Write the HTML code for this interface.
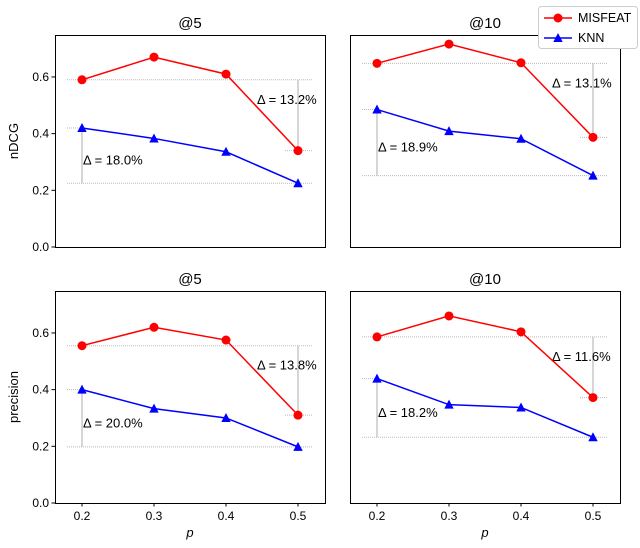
<!DOCTYPE html>
<html><head><meta charset="utf-8"><style>
body{margin:0;background:#fff;font-family:"Liberation Sans","DejaVu Sans",sans-serif}
</style></head><body>
<svg id="c" width="640" height="543" xmlns="http://www.w3.org/2000/svg"></svg>
<script>
const pValues=[0.2,0.3,0.4,0.5];
const panelTitles=["@5","@10","@5","@10"];
const misfeat=[[0.59,0.67,0.61,0.34],[0.648,0.716,0.65,0.387],[0.555,0.62,0.575,0.31],[0.586,0.66,0.604,0.372]];
const knn=[[0.42,0.383,0.336,0.225],[0.485,0.409,0.382,0.252],[0.40,0.333,0.30,0.198],[0.439,0.347,0.337,0.232]];
const deltaKnn=[18.0,18.9,20.0,18.2];
const deltaMisfeat=[13.2,13.1,13.8,11.6];
const yTicks=[0.0,0.2,0.4,0.6];
const xTicks=[0.2,0.3,0.4,0.5];
const yTitles=["nDCG","precision"];
const svg=document.getElementById('c');
const NS="http://www.w3.org/2000/svg";
function mk(t,a,p){const e=document.createElementNS(NS,t);for(const k in a)e.setAttribute(k,a[k]);(p||svg).appendChild(e);return e;}
const panels=[[55,35],[350,35],[55,291],[350,291]];
const W=270,H=212;
panels.forEach((pp,i)=>{
  const [L,T]=pp;
  const g=mk('g',{});
  
  
  const xs=v=>L+(v-0.1625)/0.375*W;
  const ys=v=>T+H-v/0.748*H;
  const m=misfeat[i],k=knn[i];
  const gray='#bbb';
  const d1=mk('line',{x1:L+12,x2:L+W-12,y1:ys(m[0]),y2:ys(m[0]),stroke:gray,'stroke-width':1,'stroke-dasharray':'1,1'},g);
  
  const d2=mk('line',{x1:L+12,x2:L+W-12,y1:ys(k[3]),y2:ys(k[3]),stroke:gray,'stroke-width':1,'stroke-dasharray':'1,1'},g);
  
  mk('line',{x1:L+12,x2:xs(0.2)+3,y1:ys(k[0]),y2:ys(k[0]),stroke:gray,'stroke-dasharray':'1,1'},g);
  mk('line',{x1:xs(0.5)-13,x2:L+W-12,y1:ys(m[3]),y2:ys(m[3]),stroke:gray,'stroke-dasharray':'1,1'},g);
  mk('line',{x1:xs(0.2),x2:xs(0.2),y1:ys(k[0]),y2:ys(k[3]),stroke:'#bbb','stroke-width':1.2},g);
  mk('line',{x1:xs(0.5),x2:xs(0.5),y1:ys(m[0]),y2:ys(m[3]),stroke:'#bbb','stroke-width':1.2},g);
  const t1=mk('text',{x:xs(0.2)+1,y:(ys(k[0])+ys(k[3]))/2+9,'font-size':13},g);
  t1.textContent='Δ = '+deltaKnn[i].toFixed(1)+'%';
  
  const t2=mk('text',{x:xs(0.5)-41,y:ys(m[0])+24,'font-size':13},g);
  t2.textContent='Δ = '+deltaMisfeat[i].toFixed(1)+'%';
  
  [[m,'#f00','misfeat'],[k,'#00f','knn']].forEach(([s,c,n])=>{
    const pl=mk('polyline',{points:s.map((v,j)=>xs(pValues[j])+','+ys(v)).join(' '),fill:'none',stroke:c,'stroke-width':1.5},g);
    
    s.forEach((v,j)=>{
      const x=xs(pValues[j]),y=ys(v);let e;
      if(n==='misfeat') e=mk('circle',{cx:x,cy:y,r:4.5,fill:c},g);
      else e=mk('polygon',{points:`${x},${y-5} ${x+4.7},${y+4} ${x-4.7},${y+4}`,fill:c},g);
      
    });
  });
  mk('rect',{x:L+0.5,y:T+0.5,width:W,height:H,fill:'none',stroke:'#000','stroke-width':1},g);
  const tt=mk('text',{x:L+W/2,y:T-7,'font-size':15,'text-anchor':'middle'},g);
  tt.textContent=panelTitles[i];
  
  if(i%2===0){
    yTicks.forEach(v=>{
      mk('line',{x1:L-3.5,x2:L,y1:ys(v),y2:ys(v),stroke:'#000'},g);
      const tl=mk('text',{x:L-6,y:ys(v)+4,'font-size':12,'text-anchor':'end'},g);
      tl.textContent=v.toFixed(1);
      
    });
    const yt=mk('text',{x:0,y:0,'font-size':13,'text-anchor':'middle',transform:`translate(${L-37},${T+H/2}) rotate(-90)`},g);
    yt.textContent=yTitles[i/2];
    
  }
  if(i>=2){
    xTicks.forEach(v=>{
      mk('line',{x1:xs(v),x2:xs(v),y1:T+H,y2:T+H+3.5,stroke:'#000'},g);
      const tl=mk('text',{x:xs(v),y:T+H+17,'font-size':12,'text-anchor':'middle'},g);
      tl.textContent=v.toFixed(1);
      
    });
    const xt=mk('text',{x:L+W/2,y:T+H+34,'font-size':13,'text-anchor':'middle','font-style':'italic'},g);
    xt.textContent='p';
    
  }
});
const lg=mk('g',{});

mk('rect',{x:538.5,y:6.5,width:99,height:42,rx:3,fill:'#fff',stroke:'#ccc'},lg);
mk('line',{x1:544,x2:572,y1:18,y2:18,stroke:'#f00','stroke-width':1.5},lg);
mk('circle',{cx:558,cy:18,r:4.5,fill:'#f00'},lg);
mk('line',{x1:544,x2:572,y1:38,y2:38,stroke:'#00f','stroke-width':1.5},lg);
mk('polygon',{points:'558,33 562.7,42 553.3,42',fill:'#00f'},lg);
const l1=mk('text',{x:578,y:22,'font-size':12.5},lg);l1.textContent='MISFEAT';

const l2=mk('text',{x:578,y:42,'font-size':12.5},lg);l2.textContent='KNN';

</script>
</body></html>
